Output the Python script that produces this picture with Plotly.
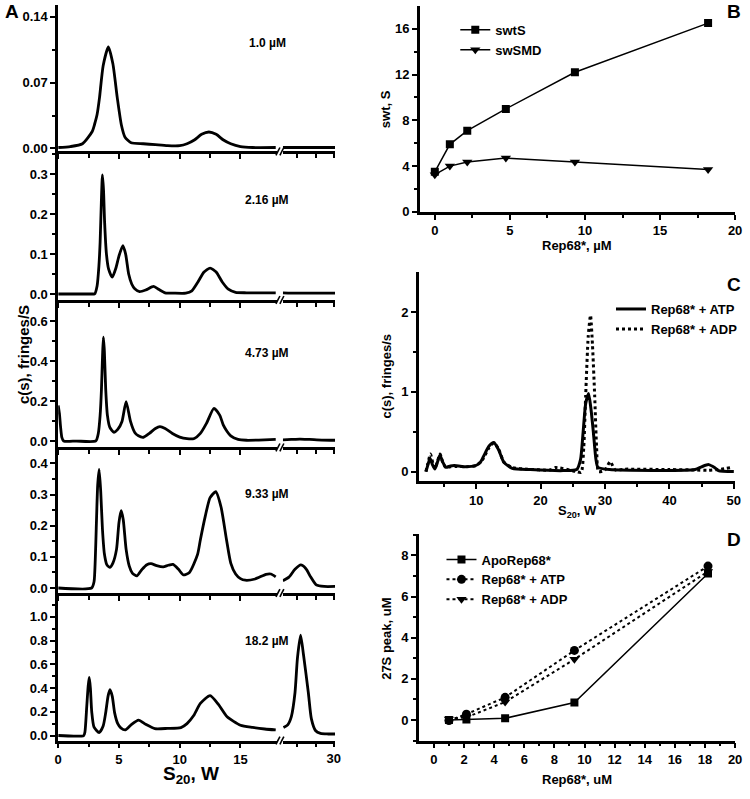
import plotly.graph_objects as go

W, H = 750, 799

# ---------------- Panel A data (c(s) distributions) ----------------
conc_labels = ["1.0 µM", "2.16 µM", "4.73 µM", "9.33 µM", "18.2 µM"]

s_a1 = [0, 1.0, 2.0, 2.8, 3.0, 3.2, 3.4, 3.7, 4.13, 4.5, 4.86, 5.2, 5.5, 6.0, 7.0, 8.0, 9.0,
        10.0, 10.6, 11.2, 11.8, 12.4, 13.0, 13.6, 14.2, 15.0, 16.0, 17.9]
c_a1 = [0.001, 0.002, 0.005, 0.018, 0.026, 0.036, 0.054, 0.088, 0.108, 0.09, 0.054, 0.025, 0.012,
        0.006, 0.005, 0.004, 0.003, 0.003, 0.005, 0.009, 0.015, 0.0175, 0.015, 0.009, 0.005, 0.002,
        0.001, 0.001]
s_a1r = [25.8, 27.0, 28.5, 30.1]
c_a1r = [0.001, 0.001, 0.001, 0.001]

s_a2 = [0, 2.9, 3.0, 3.2, 3.35, 3.45, 3.55, 3.64, 3.73, 3.82, 3.97, 4.15, 4.45, 4.75, 5.0, 5.32,
        5.55, 5.8, 6.05, 6.3, 6.7, 7.2, 7.85, 8.3, 8.8, 9.5, 10.5, 11.0, 11.5, 12.0, 12.5, 13.0,
        13.5, 14.0, 14.6, 15.5, 17.9]
c_a2 = [0.0, 0.0, 0.0, 0.02, 0.07, 0.13, 0.23, 0.298, 0.26, 0.18, 0.10, 0.062, 0.042, 0.065, 0.095,
        0.121, 0.10, 0.05, 0.025, 0.013, 0.006, 0.01, 0.019, 0.011, 0.003, 0.002, 0.002, 0.008,
        0.03, 0.055, 0.065, 0.055, 0.03, 0.012, 0.004, 0.003, 0.003]
s_a2r = [25.8, 27.0, 28.5, 30.1]
c_a2r = [0.003, 0.002, 0.002, 0.002]

s_a3 = [0, 0.1, 0.2, 0.3, 0.45, 1.5, 3.1, 3.3, 3.45, 3.56, 3.65, 3.72, 3.8, 3.91, 4.05, 4.25,
        4.59, 4.9, 5.25, 5.59, 5.95, 6.3, 6.6, 7.02, 7.5, 8.0, 8.37, 8.8, 9.4, 10.0, 10.6, 11.2,
        11.7, 12.2, 12.82, 13.3, 13.58, 13.9, 14.2, 14.8, 15.5, 16.5, 17.9]
c_a3 = [0.18, 0.14, 0.07, 0.02, 0.002, 0.002, 0.003, 0.04, 0.13, 0.26, 0.43, 0.52, 0.45, 0.26,
        0.13, 0.07, 0.046, 0.06, 0.10, 0.199, 0.10, 0.045, 0.028, 0.021, 0.04, 0.065, 0.074, 0.065,
        0.04, 0.022, 0.014, 0.015, 0.04, 0.09, 0.165, 0.13, 0.083, 0.05, 0.028, 0.01, 0.006,
        0.007, 0.01]
s_a3r = [25.8, 26.5, 27.2, 28.0, 29.0, 30.1]
c_a3r = [0.008, 0.01, 0.012, 0.01, 0.007, 0.006]

s_a4 = [0, 2.75, 2.95, 3.05, 3.13, 3.25, 3.37, 3.5, 3.64, 3.8, 4.0, 4.24, 4.5, 4.8, 5.0, 5.18,
        5.35, 5.59, 5.85, 6.1, 6.48, 6.9, 7.3, 7.64, 8.1, 8.64, 9.05, 9.45, 9.9, 10.3, 10.8, 11.47,
        11.7, 12.1, 12.5, 12.96, 13.4, 13.85, 14.2, 14.6, 15.0, 15.4, 16.2, 17.1, 17.5, 17.9]
c_a4 = [0.0, 0.0, 0.02, 0.09, 0.19, 0.33, 0.381, 0.31, 0.19, 0.11, 0.075, 0.066, 0.08, 0.124,
        0.21, 0.248, 0.22, 0.124, 0.07, 0.048, 0.039, 0.06, 0.075, 0.078, 0.072, 0.068, 0.073,
        0.076, 0.06, 0.042, 0.05, 0.108, 0.155, 0.23, 0.29, 0.309, 0.26, 0.155, 0.08, 0.045,
        0.03, 0.025, 0.029, 0.044, 0.045, 0.036]
s_a4r = [25.8, 26.3, 26.8, 27.28, 27.7, 28.1, 28.55, 29.2, 30.1]
c_a4r = [0.023, 0.035, 0.06, 0.074, 0.062, 0.035, 0.01, 0.005, 0.005]

s_a5 = [0, 2.1, 2.2, 2.35, 2.47, 2.56, 2.65, 2.76, 2.95, 3.37, 3.7, 3.91, 4.1, 4.26, 4.45, 4.64,
        4.9, 5.15, 5.53, 6.0, 6.61, 7.2, 7.96, 9.0, 10.1, 10.6, 11.15, 11.7, 12.5, 13.2, 13.9,
        15.0, 16.0, 17.0, 17.9]
c_a5 = [0.0, 0.0, 0.03, 0.245, 0.42, 0.489, 0.40, 0.20, 0.07, 0.025, 0.08, 0.193, 0.33, 0.386,
        0.33, 0.193, 0.10, 0.065, 0.047, 0.09, 0.13, 0.095, 0.058, 0.06, 0.067, 0.10, 0.168, 0.27,
        0.336, 0.26, 0.158, 0.086, 0.068, 0.055, 0.047]
s_a5r = [25.85, 26.2, 26.5, 26.8, 27.0, 27.26, 27.5, 27.9, 28.15, 28.5, 28.9, 29.5, 30.1]
c_a5r = [0.067, 0.09, 0.16, 0.36, 0.65, 0.845, 0.68, 0.36, 0.14, 0.04, 0.018, 0.013, 0.013]

# ---------------- Panel B data ----------------
conc_b = [0, 1.0, 2.16, 4.73, 9.33, 18.2]
swtS = [3.5, 5.9, 7.1, 9.0, 12.2, 16.5]
swSMD = [3.25, 4.0, 4.35, 4.7, 4.35, 3.7]

# ---------------- Panel C data ----------------
s_atp = [2.2, 2.5, 2.84, 3.2, 3.6, 4.0, 4.38, 4.8, 5.3, 6.0, 6.6, 8.1, 9.9, 10.6, 11.2, 12.0,
         12.75, 13.5, 14.3, 15.6, 18.4, 23.5, 25.6, 26.2, 26.6, 27.0, 27.45, 27.8, 28.2, 28.6,
         28.9, 30.7, 44.0, 45.0, 46.1, 47.0, 47.6, 50.0]
c_atp = [0.0, 0.08, 0.166, 0.09, 0.033, 0.12, 0.208, 0.12, 0.054, 0.07, 0.075, 0.062, 0.075,
         0.11, 0.2, 0.32, 0.365, 0.27, 0.116, 0.041, 0.025, 0.012, 0.025, 0.15, 0.49, 0.85, 0.98,
         0.8, 0.49, 0.15, 0.054, 0.025, 0.025, 0.06, 0.087, 0.05, 0.012, 0.0]
s_adp = [2.2, 2.5, 2.9, 3.3, 3.6, 4.0, 4.4, 4.8, 5.3, 6.0, 7.0, 8.5, 10.0, 11.0, 12.0, 12.75,
         13.5, 14.3, 15.6, 18.0, 21.5, 22.3, 23.0, 24.5, 25.5, 26.3, 26.7, 27.0, 27.4, 27.75, 28.05,
         28.4, 28.7, 29.0, 30.0, 30.8, 31.6, 33.0, 40.0, 44.0, 46.0, 48.0, 49.5]
c_adp = [0.0, 0.1, 0.22, 0.1, 0.04, 0.13, 0.22, 0.12, 0.05, 0.06, 0.065, 0.06, 0.075, 0.15, 0.3,
         0.36, 0.28, 0.12, 0.05, 0.03, 0.02, 0.05, 0.045, 0.02, 0.0, -0.01, 0.3, 0.95, 1.7, 1.96,
         1.6, 0.95, 0.3, 0.0, 0.02, 0.125, 0.02, 0.03, 0.025, 0.02, 0.015, 0.03, 0.05]

# ---------------- Panel D data ----------------
conc_d = [1.0, 2.16, 4.73, 9.33, 18.2]
peak_apo = [0.0, 0.02, 0.08, 0.85, 7.12]
peak_atp = [-0.03, 0.28, 1.1, 3.38, 7.48]
peak_adp = [0.05, 0.13, 0.87, 2.95, 7.22]

# ---------------- layout helpers ----------------
FONT = "Arial, Liberation Sans, sans-serif"


def fx(p):
    return p / W


def fy(p):
    return 1 - p / H


fig = go.Figure()

rows_px = [(5, 153), (153, 303), (303, 452), (452, 599), (599, 748)]
y_ranges = [[-0.0032, 0.1526], [-0.015, 0.357], [-0.030, 0.706], [-0.016, 0.451], [-0.042, 1.2]]
y_major = [[0, 0.07, 0.14], [0, 0.1, 0.2, 0.3], [0, 0.2, 0.4, 0.6], [0, 0.1, 0.2, 0.3, 0.4],
           [0, 0.2, 0.4, 0.6, 0.8, 1.0]]
y_minor = [[0.035, 0.105], [0.05, 0.15, 0.25, 0.35], [0.1, 0.3, 0.5], [0.05, 0.15, 0.25, 0.35],
           [0.1, 0.3, 0.5, 0.7, 0.9, 1.1]]
y_fmt = [".2f", ".1f", ".1f", ".1f", ".1f"]
left_s = [s_a1, s_a2, s_a3, s_a4, s_a5]
left_c = [c_a1, c_a2, c_a3, c_a4, c_a5]
right_s = [s_a1r, s_a2r, s_a3r, s_a4r, s_a5r]
right_c = [c_a1r, c_a2r, c_a3r, c_a4r, c_a5r]

XL = (55, 277)
XR = (283, 336)

axis_common = dict(showline=True, linecolor="black", linewidth=2.6, ticks="outside",
                   tickcolor="black", tickwidth=2, showgrid=False, zeroline=False,
                   tickfont=dict(family=FONT, size=13, color="black", weight="bold"))

layout = {}
annotations = []
shapes = []

for i in range(5):
    r = i + 1
    xl = 2 * i + 1
    xr = 2 * i + 2
    top, bot = rows_px[i]
    xl_name = "xaxis" if xl == 1 else f"xaxis{xl}"
    xl_ref = "x" if xl == 1 else f"x{xl}"
    y_name = "yaxis" if r == 1 else f"yaxis{r}"
    y_ref = "y" if r == 1 else f"y{r}"
    last = (i == 4)
    layout[xl_name] = dict(axis_common, domain=[fx(XL[0]), fx(XL[1])], range=[0, 18],
                           anchor=y_ref, tickvals=[0, 5, 10, 15], ticklen=5,
                           showticklabels=last,
                           minor=dict(tickvals=[2.5, 7.5, 12.5], ticklen=4, ticks="outside",
                                      tickcolor="black", tickwidth=2))
    layout[f"xaxis{xr}"] = dict(axis_common, domain=[fx(XR[0]), fx(XR[1])], range=[25.8, 30.1],
                                anchor=y_ref, tickvals=[27, 28.5, 30], ticktext=[" ", " ", "30"],
                                ticklen=4, showticklabels=last)
    layout[y_name] = dict(axis_common, domain=[fy(bot), fy(top)], range=y_ranges[i],
                          anchor=xl_ref, tickvals=y_major[i], tickformat=y_fmt[i], ticklen=5,
                          minor=dict(tickvals=y_minor[i], ticklen=3, ticks="outside",
                                     tickcolor="black", tickwidth=2))
    fig.add_trace(go.Scatter(x=left_s[i], y=left_c[i], mode="lines", xaxis=xl_ref, yaxis=y_ref,
                             line=dict(color="black", width=2.8, shape="spline", smoothing=0.6),
                             showlegend=False))
    fig.add_trace(go.Scatter(x=right_s[i], y=right_c[i], mode="lines", xaxis=f"x{xr}",
                             yaxis=y_ref,
                             line=dict(color="black", width=2.8, shape="spline", smoothing=0.6),
                             showlegend=False))
    # concentration label
    lab_y = [43, 202, 357, 499, 647][i]
    annotations.append(dict(text=conc_labels[i], x=fx(267), y=fy(lab_y),
                            font=dict(family=FONT, size=12, color="black", weight="bold")))
    # axis break marks
    for dx in (0, 4):
        shapes.append(dict(type="line", xref="paper", yref="paper",
                           x0=fx(276 + dx), y0=fy(bot + 4), x1=fx(280 + dx), y1=fy(bot - 4),
                           line=dict(color="black", width=1.6)))

# Panel B
layout["xaxis11"] = dict(axis_common, domain=[fx(422), fx(742)], range=[-1, 20], anchor="y6",
                         tickvals=[0, 5, 10, 15, 20], ticklen=5,
                         minor=dict(tickvals=[2.5, 7.5, 12.5, 17.5], ticklen=3, ticks="outside",
                                    tickcolor="black", tickwidth=2))
layout["yaxis6"] = dict(axis_common, domain=[fy(214), fy(6)], range=[0, 18], anchor="x11",
                        tickvals=[0, 4, 8, 12, 16], ticklen=5,
                        minor=dict(tickvals=[2, 6, 10, 14], ticklen=3, ticks="outside",
                                   tickcolor="black", tickwidth=2))
fig.add_trace(go.Scatter(x=conc_b, y=swtS, mode="lines+markers", name="swtS", xaxis="x11",
                         yaxis="y6", line=dict(color="black", width=1.5),
                         marker=dict(symbol="square", size=8, color="black"), legend="legend"))
fig.add_trace(go.Scatter(x=conc_b, y=swSMD, mode="lines+markers", name="swSMD", xaxis="x11",
                         yaxis="y6", line=dict(color="black", width=1.5),
                         marker=dict(symbol="triangle-down", size=9, color="black"),
                         legend="legend"))

# Panel C
layout["xaxis12"] = dict(axis_common, domain=[fx(421), fx(742)], range=[1.1, 50.2], anchor="y7",
                         tickvals=[10, 20, 30, 40, 50], ticklen=5,
                         minor=dict(tickvals=[5, 15, 25, 35, 45], ticklen=3, ticks="outside",
                                    tickcolor="black", tickwidth=2))
layout["yaxis7"] = dict(axis_common, domain=[fy(486), fy(275)], range=[-0.12, 2.5], anchor="x12",
                        tickvals=[0, 1, 2], ticklen=5,
                        minor=dict(tickvals=[0.5, 1.5], ticklen=3, ticks="outside",
                                   tickcolor="black", tickwidth=2))
fig.add_trace(go.Scatter(x=s_atp, y=c_atp, mode="lines", name="Rep68* + ATP", xaxis="x12",
                         yaxis="y7",
                         line=dict(color="black", width=3, shape="spline", smoothing=0.6),
                         legend="legend2"))
fig.add_trace(go.Scatter(x=s_adp, y=c_adp, mode="lines", name="Rep68* + ADP", xaxis="x12",
                         yaxis="y7",
                         line=dict(color="black", width=3, dash="dot", shape="spline",
                                   smoothing=0.6),
                         legend="legend2"))

# Panel D
layout["xaxis13"] = dict(axis_common, domain=[fx(421), fx(742)], range=[-1, 20], anchor="y8",
                         tickvals=list(range(0, 21, 2)), ticklen=5,
                         minor=dict(tickvals=list(range(1, 20, 2)), ticklen=3, ticks="outside",
                                    tickcolor="black", tickwidth=2))
layout["yaxis8"] = dict(axis_common, domain=[fy(748), fy(539)], range=[-1, 9.06], anchor="x13",
                        tickvals=[0, 2, 4, 6, 8], ticklen=5,
                        minor=dict(tickvals=[-1, 1, 3, 5, 7, 9], ticklen=3, ticks="outside",
                                   tickcolor="black", tickwidth=2))
fig.add_trace(go.Scatter(x=conc_d, y=peak_apo, mode="lines+markers", name="ApoRep68*",
                         xaxis="x13", yaxis="y8", line=dict(color="black", width=1.5),
                         marker=dict(symbol="square", size=8, color="black"), legend="legend3"))
fig.add_trace(go.Scatter(x=conc_d, y=peak_atp, mode="lines+markers", name="Rep68* + ATP",
                         xaxis="x13", yaxis="y8", line=dict(color="black", width=2, dash="dot"),
                         marker=dict(symbol="circle", size=9, color="black"), legend="legend3"))
fig.add_trace(go.Scatter(x=conc_d, y=peak_adp, mode="lines+markers", name="Rep68* + ADP",
                         xaxis="x13", yaxis="y8", line=dict(color="black", width=2, dash="dot"),
                         marker=dict(symbol="triangle-down", size=9, color="black"),
                         legend="legend3"))

lfont = dict(family=FONT, size=13, color="black", weight="bold")
layout["legend"] = dict(x=fx(458), y=fy(15), xanchor="left", yanchor="top", font=lfont,
                        bgcolor="rgba(0,0,0,0)", itemwidth=30, tracegroupgap=0)
layout["legend2"] = dict(x=fx(750), y=fy(297), xanchor="right", yanchor="top", font=lfont,
                         bgcolor="rgba(0,0,0,0)", itemwidth=30, tracegroupgap=0)
layout["legend3"] = dict(x=fx(444), y=fy(550), xanchor="left", yanchor="top", font=lfont,
                         bgcolor="rgba(0,0,0,0)", itemwidth=30, tracegroupgap=0)

tfont = dict(family=FONT, size=13, color="black", weight="bold")
# axis titles and panel letters
annotations += [
    dict(text="c(s), fringes/S", x=fx(20), y=fy(358), textangle=-90, font=dict(tfont, size=15)),
    dict(text="S<sub>20</sub>, W", x=fx(190), y=fy(783), font=dict(tfont, size=19)),
    dict(text="swt, S", x=fx(388), y=fy(110), textangle=-90, font=tfont),
    dict(text="Rep68*, µM", x=fx(582), y=fy(248), font=tfont),
    dict(text="c(s), fringes/s", x=fx(388), y=fy(380), textangle=-90, font=tfont),
    dict(text="S<sub>20</sub>, W", x=fx(582), y=fy(517), font=tfont),
    dict(text="27S peak, uM", x=fx(388), y=fy(645), textangle=-90, font=tfont),
    dict(text="Rep68*, uM", x=fx(582), y=fy(787), font=tfont),
    dict(text="A", x=fx(8), y=fy(12), font=dict(tfont, size=19)),
    dict(text="B", x=fx(741), y=fy(12), font=dict(tfont, size=19)),
    dict(text="C", x=fx(741), y=fy(287), font=dict(tfont, size=19)),
    dict(text="D", x=fx(741), y=fy(545), font=dict(tfont, size=19)),
]
for a in annotations:
    a.setdefault("xref", "paper")
    a.setdefault("yref", "paper")
    a.setdefault("showarrow", False)
    a.setdefault("xanchor", "center")
    a.setdefault("yanchor", "middle")

fig.update_layout(width=W, height=H, margin=dict(l=0, r=0, t=0, b=0),
                  paper_bgcolor="white", plot_bgcolor="white",
                  font=dict(family=FONT, color="black"),
                  annotations=annotations, shapes=shapes, **layout)

fig.write_html("out.html", config={"displayModeBar": False},
               post_script="document.body.style.margin='0px';")
